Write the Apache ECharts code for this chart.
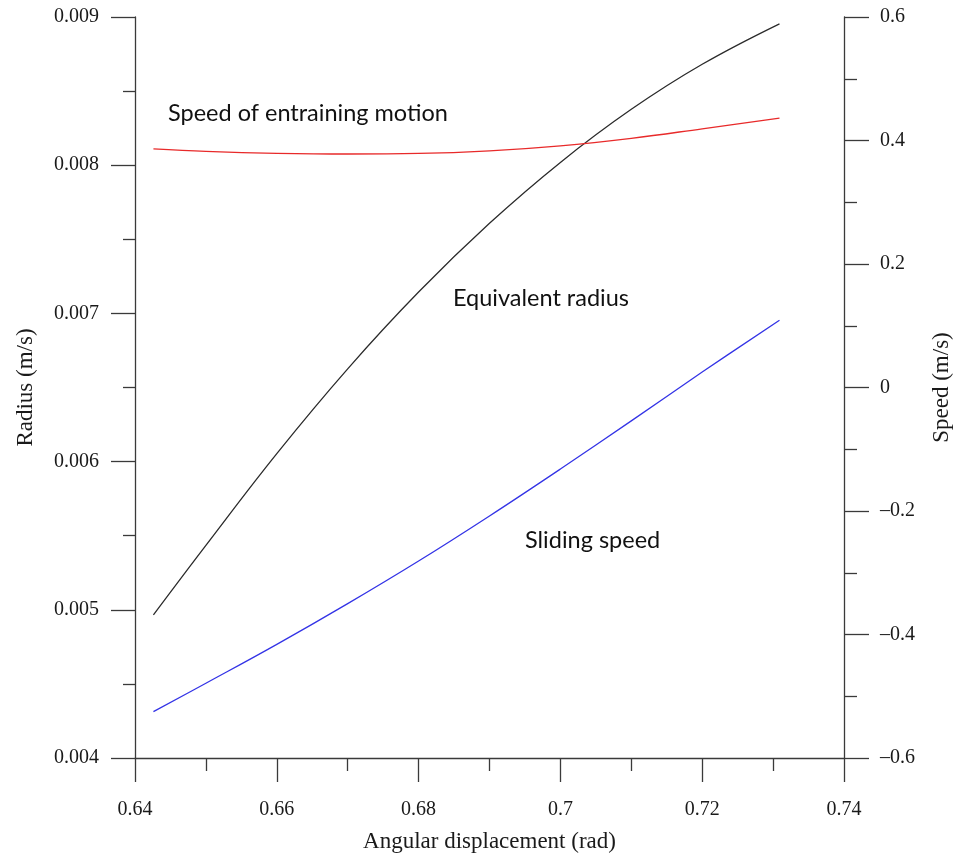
<!DOCTYPE html>
<html>
<head>
<meta charset="utf-8">
<script src="https://cdn.jsdelivr.net/npm/echarts@6/dist/echarts.min.js"></script>
<style>
html,body{margin:0;padding:0;background:#fff;}
#chart{width:961px;height:858px;}
</style>
</head>
<body>
<div id="chart"></div>
<script>
// Angular displacement (rad)
const angle = [0.6426, 0.65, 0.66, 0.67, 0.68, 0.69, 0.70, 0.71, 0.72, 0.7309];
// Equivalent radius (left axis)
const equivalentRadius = [0.004966, 0.005435, 0.006054, 0.006626, 0.007144, 0.007608, 0.008019, 0.008377, 0.008681, 0.008954];
// Speed of entraining motion (right axis)
const entrainingSpeed = [0.3865, 0.3825, 0.3793, 0.3781, 0.3790, 0.3833, 0.3914, 0.4035, 0.4189, 0.4362];
// Sliding speed (right axis)
const slidingSpeed = [-0.525, -0.479, -0.416, -0.350, -0.281, -0.208, -0.132, -0.054, 0.025, 0.109];

const seriesNames = ['Equivalent radius', 'Speed of entraining motion', 'Sliding speed'];
const axisNames = { x: 'Angular displacement (rad)', left: 'Radius (m/s)', right: 'Speed (m/s)' };

const pair = (xs, ys) => xs.map((x, i) => [x, ys[i]]);

const serif = '"Liberation Serif", "DejaVu Serif", serif';
const sans = 'Lato, "Open Sans", sans-serif';
const axisColor = '#3a3a3a';
const lblColor = '#1a1a1a';

const chart = echarts.init(document.getElementById('chart'), null, { renderer: 'canvas' });

function fmtSigned(v, d) {
  const n = parseFloat(Number(v).toFixed(d));
  if (n < 0) return '\u2013' + String(Math.abs(n));
  return String(n);
}

const option = {
  backgroundColor: '#ffffff',
  animation: false,
  grid: { left: 135, top: 17, width: 715, height: 742.5, containLabel: false },
  xAxis: {
    type: 'value', min: 0.64, max: 0.74, interval: 0.02,
    name: axisNames.x, nameLocation: 'middle', nameGap: 72,
    nameTextStyle: { fontFamily: serif, fontSize: 23, color: lblColor },
    axisLine: { show: true, onZero: false, lineStyle: { color: axisColor, width: 1.3 } },
    axisTick: { show: true, inside: false, length: 24, lineStyle: { color: axisColor, width: 1.3 } },
    minorTick: { show: true, splitNumber: 2, length: 13, lineStyle: { color: axisColor, width: 1.3 } },
    splitLine: { show: false },
    axisLabel: { margin: 42, fontFamily: serif, fontSize: 20, color: lblColor,
      formatter: v => String(parseFloat(Number(v).toFixed(2))) }
  },
  yAxis: [
    {
      type: 'value', position: 'left', min: 0.004, max: 0.009, interval: 0.001,
      name: axisNames.left, nameLocation: 'middle', nameGap: 98, nameRotate: 90,
      nameTextStyle: { fontFamily: serif, fontSize: 23, color: lblColor },
      axisLine: { show: true, onZero: false, lineStyle: { color: axisColor, width: 1.3 } },
      axisTick: { show: true, inside: false, length: 24, lineStyle: { color: axisColor, width: 1.3 } },
      minorTick: { show: true, splitNumber: 2, length: 12, lineStyle: { color: axisColor, width: 1.3 } },
      splitLine: { show: false },
      axisLabel: { margin: 36, fontFamily: serif, fontSize: 20, color: lblColor,
        formatter: v => Number(v).toFixed(3) }
    },
    {
      type: 'value', position: 'right', min: -0.6, max: 0.6, interval: 0.2,
      name: axisNames.right, nameLocation: 'middle', nameGap: 86, nameRotate: 90,
      nameTextStyle: { fontFamily: serif, fontSize: 23, color: lblColor },
      axisLine: { show: true, onZero: false, lineStyle: { color: axisColor, width: 1.3 } },
      axisTick: { show: true, inside: false, length: 25, lineStyle: { color: axisColor, width: 1.3 } },
      minorTick: { show: true, splitNumber: 2, length: 13, lineStyle: { color: axisColor, width: 1.3 } },
      splitLine: { show: false },
      axisLabel: { margin: 36, fontFamily: serif, fontSize: 20, color: lblColor,
        formatter: v => fmtSigned(v, 1) }
    }
  ],
  series: [
    { name: seriesNames[0], type: 'line', yAxisIndex: 0, data: pair(angle, equivalentRadius),
      smooth: 0.4, showSymbol: false, lineStyle: { color: '#2b2b2b', width: 1.3 } },
    { name: seriesNames[1], type: 'line', yAxisIndex: 1, data: pair(angle, entrainingSpeed),
      smooth: 0.4, showSymbol: false, lineStyle: { color: '#e82a2a', width: 1.3 } },
    { name: seriesNames[2], type: 'line', yAxisIndex: 1, data: pair(angle, slidingSpeed),
      smooth: 0.4, showSymbol: false, lineStyle: { color: '#3434e6', width: 1.3 } }
  ],
  graphic: [
    { type: 'text', left: 168, top: 101, style: { text: seriesNames[1], fontFamily: sans, fontSize: 23.5, fill: '#111' } },
    { type: 'text', left: 453, top: 286, style: { text: seriesNames[0], fontFamily: sans, fontSize: 23.5, fill: '#111' } },
    { type: 'text', left: 525, top: 528, style: { text: seriesNames[2], fontFamily: sans, fontSize: 23.5, fill: '#111' } }
  ]
};
chart.setOption(option);
</script>
</body>
</html>
